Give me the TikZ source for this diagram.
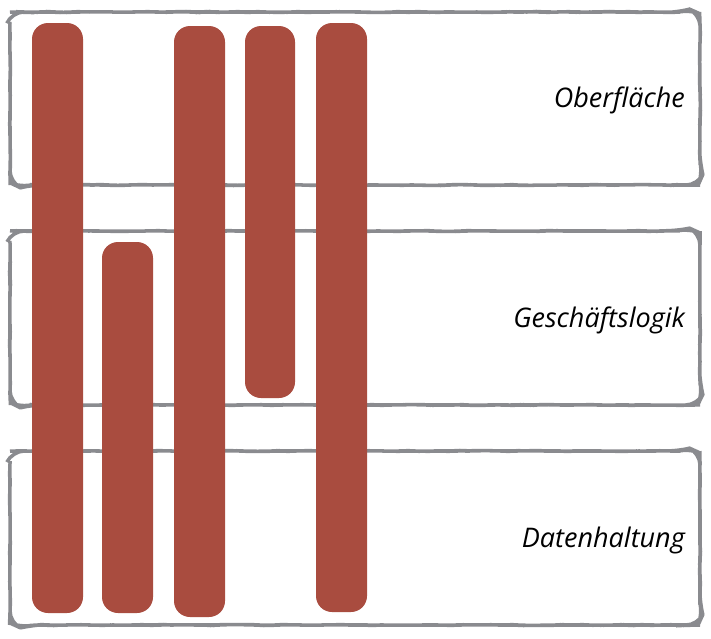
\documentclass[tikz,border=0pt]{standalone}
\usepackage{fontspec}
\setmainfont{Open Sans}
\usetikzlibrary{decorations.pathmorphing}
\definecolor{barred}{RGB}{169,76,63}
\definecolor{framegray}{RGB}{138,139,143}
\begin{document}
\begin{tikzpicture}[x=1pt,y=-1pt,
  layerbox/.style={draw=framegray,line width=3.5pt,rounded corners=12pt,
    decorate,decoration={random steps,segment length=10pt,amplitude=0.4pt}},
  bar/.style={fill=barred,rounded corners=16pt},
  lbl/.style={font=\itshape\fontsize{27}{30}\selectfont,anchor=east,inner sep=0pt}]
\useasboundingbox (0,0) rectangle (711,638);
\pgfmathsetseed{7}
\draw[layerbox] (10,12) rectangle (700,185);
\draw[layerbox] (10,231) rectangle (700,405);
\draw[layerbox] (10,451) rectangle (700,625);
\fill[bar] (32,23) rectangle (83,613);
\fill[bar] (102,242) rectangle (153,613);
\fill[bar] (174,26) rectangle (225,617);
\fill[bar] (245,26) rectangle (295,398);
\fill[bar] (316,23) rectangle (367,612);
\node[lbl] (l1) at (685,100) {Oberfläche};
\node[lbl] (l2) at (685,320) {Geschäftslogik};
\node[lbl] (l3) at (685,540) {Datenhaltung};
\end{tikzpicture}
\end{document}
